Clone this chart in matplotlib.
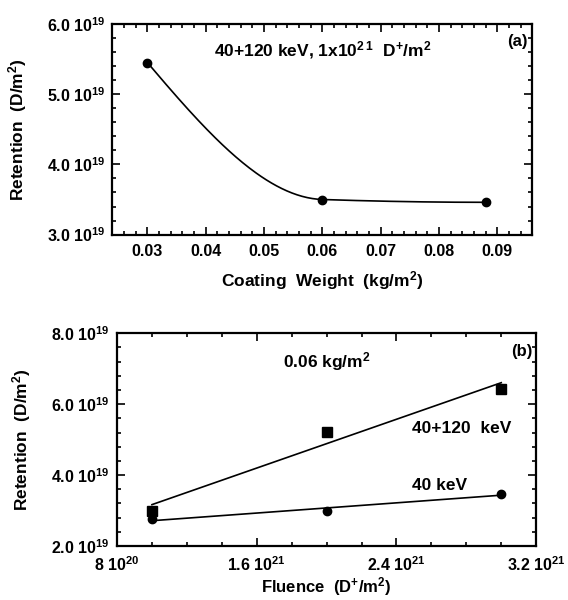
import numpy as np
import matplotlib
matplotlib.use("Agg")
import matplotlib.pyplot as plt
from matplotlib.ticker import FixedLocator, MultipleLocator

plt.rcParams['font.family'] = ['Liberation Sans', 'DejaVu Sans']
plt.rcParams['font.weight'] = 'bold'
plt.rcParams['mathtext.fontset'] = 'custom'
plt.rcParams['mathtext.rm'] = 'Liberation Sans:bold'
plt.rcParams['mathtext.bf'] = 'Liberation Sans:bold'
plt.rcParams['mathtext.default'] = 'bf'

# panel (a): retention vs coating weight
coating_weight = [0.03, 0.06, 0.088]
retention_a = [5.45e19, 3.50e19, 3.46e19]

# panel (b): retention vs fluence
fluence = [1.0e21, 2.0e21, 3.0e21]
retention_40_120 = [3.0e19, 5.22e19, 6.44e19]
retention_40 = [2.75e19, 3.0e19, 3.47e19]

a_yticks = [3.0e19, 4.0e19, 5.0e19, 6.0e19]
a_yticklabels = [r'3.0 10$^{19}$', r'4.0 10$^{19}$', r'5.0 10$^{19}$', r'6.0 10$^{19}$']
a_xticks = [0.03, 0.04, 0.05, 0.06, 0.07, 0.08, 0.09]
a_xticklabels = ['0.03', '0.04', '0.05', '0.06', '0.07', '0.08', '0.09']

b_yticks = [2.0e19, 4.0e19, 6.0e19, 8.0e19]
b_yticklabels = [r'2.0 10$^{19}$', r'4.0 10$^{19}$', r'6.0 10$^{19}$', r'8.0 10$^{19}$']
b_xticks = [0.8e21, 1.6e21, 2.4e21, 3.2e21]
b_xticklabels = [r'8 10$^{20}$', r'1.6 10$^{21}$', r'2.4 10$^{21}$', r'3.2 10$^{21}$']


def pchip(x, y, xs):
    # monotone cubic (Fritsch-Carlson) through the measured points
    x = np.asarray(x, float)
    y = np.asarray(y, float)
    h = np.diff(x)
    d = np.diff(y) / h
    m = np.zeros_like(y)
    for k in range(1, len(x) - 1):
        if d[k - 1] * d[k] > 0:
            w1 = 2 * h[k] + h[k - 1]
            w2 = h[k] + 2 * h[k - 1]
            m[k] = (w1 + w2) / (w1 / d[k - 1] + w2 / d[k])
    m[0] = ((2 * h[0] + h[1]) * d[0] - h[0] * d[1]) / (h[0] + h[1])
    if np.sign(m[0]) != np.sign(d[0]):
        m[0] = 0
    m[-1] = ((2 * h[-1] + h[-2]) * d[-1] - h[-1] * d[-2]) / (h[-1] + h[-2])
    if np.sign(m[-1]) != np.sign(d[-1]):
        m[-1] = 0
    ys = np.empty_like(xs)
    for i, xv in enumerate(xs):
        k = min(np.searchsorted(x, xv, side='right') - 1, len(x) - 2)
        t = (xv - x[k]) / h[k]
        h00 = 2 * t**3 - 3 * t**2 + 1
        h10 = t**3 - 2 * t**2 + t
        h01 = -2 * t**3 + 3 * t**2
        h11 = t**3 - t**2
        ys[i] = h00 * y[k] + h10 * h[k] * m[k] + h01 * y[k + 1] + h11 * h[k] * m[k + 1]
    return ys


def style_axes(ax):
    for s in ax.spines.values():
        s.set_linewidth(1.6)
    ax.tick_params(which='both', direction='in', top=True, right=True, width=1.2)
    ax.tick_params(which='major', length=6, labelsize=11.5)
    ax.tick_params(which='minor', length=3)
    ax.tick_params(axis='x', which='major', pad=7)
    ax.tick_params(axis='y', which='major', pad=5)


fig = plt.figure(figsize=(5.68, 6.0), dpi=100)

# ---- (a)
ax1 = fig.add_axes([0.198, 0.609, 0.739, 0.351])
xs = np.linspace(coating_weight[0], coating_weight[-1], 200)
ax1.plot(xs, pchip(coating_weight, retention_a, xs), color='black', lw=1.2)
ax1.plot(coating_weight, retention_a, 'o', color='black', ms=6)
ax1.set_xlim(0.024, 0.096)
ax1.set_ylim(3.0e19, 6.0e19)
ax1.xaxis.set_major_locator(FixedLocator(a_xticks))
ax1.set_xticklabels(a_xticklabels)
ax1.xaxis.set_minor_locator(MultipleLocator(0.002))
ax1.yaxis.set_major_locator(FixedLocator(a_yticks))
ax1.set_yticklabels(a_yticklabels)
ax1.yaxis.set_minor_locator(MultipleLocator(0.2e19))
style_axes(ax1)
ax1.set_xlabel(r'Coating  Weight  (kg/m$^2$)', fontsize=12.5, fontweight='bold')
ax1.set_ylabel(r'Retention  (D/m$^2$)', fontsize=12.5, fontweight='bold')
ax1.xaxis.set_label_coords(0.5, -0.164)
ax1.yaxis.set_label_coords(-0.199, 0.5)
ax1.text(0.5, 0.877, r'40+120 keV, 1x10$^{2\,1}$  D$^{+}$/m$^2$', transform=ax1.transAxes,
         ha='center', va='center', fontsize=12.5, fontweight='bold')
ax1.text(0.988, 0.916, '(a)', transform=ax1.transAxes, ha='right', va='center',
         fontsize=12, fontweight='bold')

# ---- (b)
ax2 = fig.add_axes([0.206, 0.09, 0.738, 0.3545])
for yv, mk in [(retention_40_120, 's'), (retention_40, 'o')]:
    coef = np.polyfit(fluence, yv, 1)
    xl = np.array([fluence[0], fluence[-1]])
    ax2.plot(xl, np.polyval(coef, xl), color='black', lw=1.2)
    ax2.plot(fluence, yv, mk, color='black', ms=7 if mk == 's' else 6)
ax2.set_xlim(0.8e21, 3.2e21)
ax2.set_ylim(2.0e19, 8.0e19)
ax2.xaxis.set_major_locator(FixedLocator(b_xticks))
ax2.set_xticklabels(b_xticklabels)
ax2.xaxis.set_minor_locator(MultipleLocator(0.2e21))
ax2.yaxis.set_major_locator(FixedLocator(b_yticks))
ax2.set_yticklabels(b_yticklabels)
ax2.yaxis.set_minor_locator(MultipleLocator(0.4e19))
style_axes(ax2)
ax2.tick_params(axis='y', which='major', pad=5.5)
ax2.set_xlabel(r'Fluence  (D$^{+}$/m$^2$)', fontsize=12, fontweight='bold')
ax2.set_ylabel(r'Retention  (D/m$^2$)', fontsize=12.5, fontweight='bold')
ax2.xaxis.set_label_coords(0.5, -0.137)
ax2.yaxis.set_label_coords(-0.2, 0.5)
ax2.text(0.397, 0.866, r'0.06 kg/m$^2$', transform=ax2.transAxes, ha='left', va='center',
         fontsize=12.5, fontweight='bold')
ax2.text(0.99, 0.913, '(b)', transform=ax2.transAxes, ha='right', va='center',
         fontsize=12, fontweight='bold')
ax2.text(2.49e21, 5.32e19, '40+120  keV', ha='left', va='center', fontsize=12.5, fontweight='bold')
ax2.text(2.49e21, 3.7e19, '40 keV', ha='left', va='center', fontsize=12.5, fontweight='bold')

fig.savefig('out.png', dpi=100)
